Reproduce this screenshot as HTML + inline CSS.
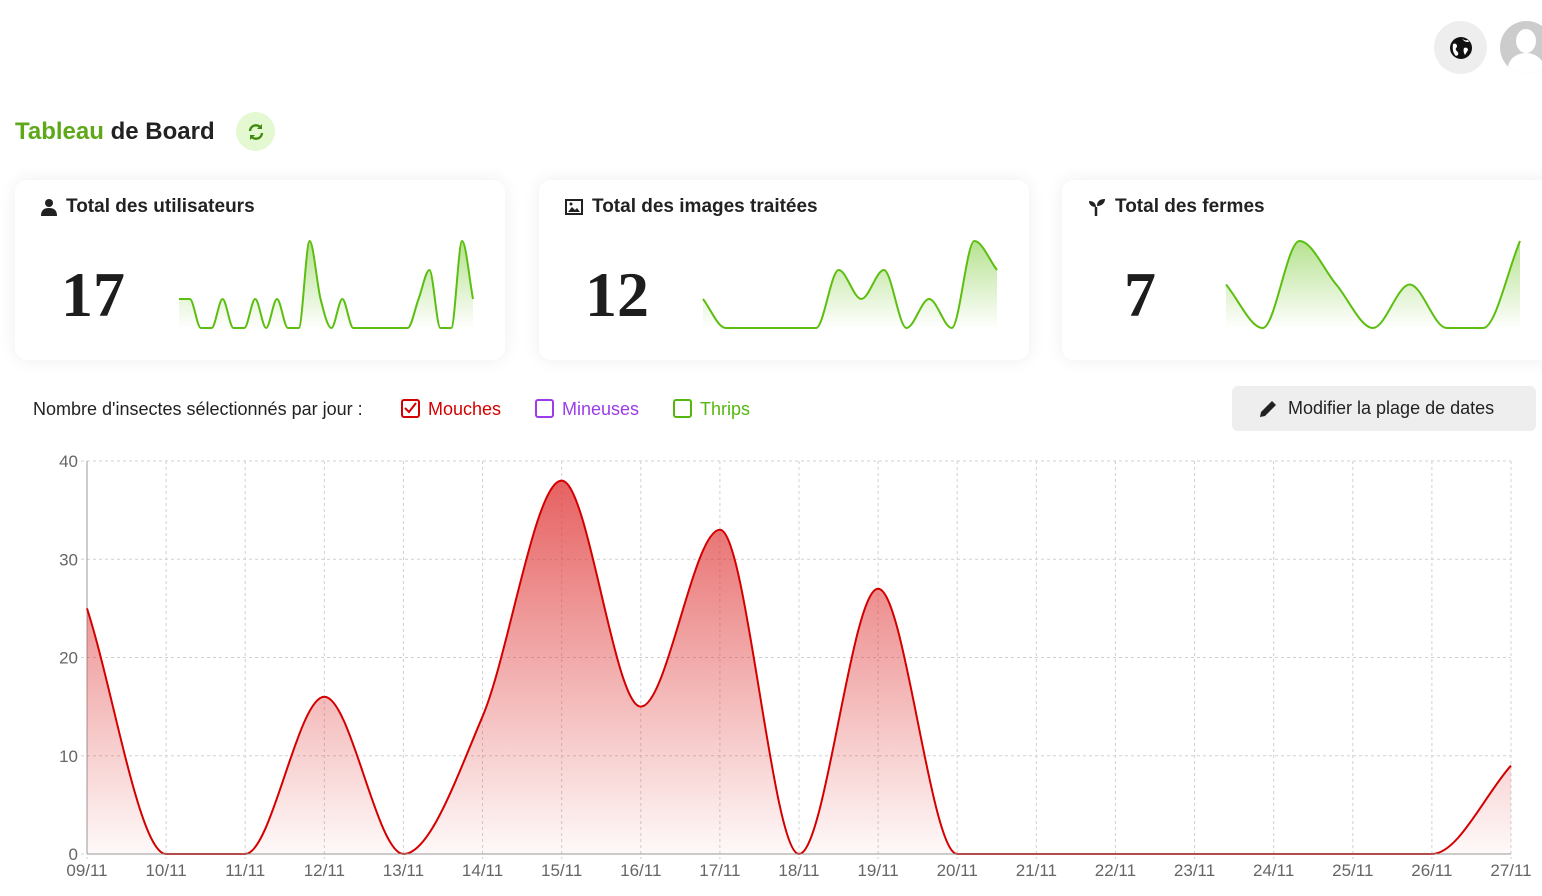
<!DOCTYPE html>
<html><head><meta charset="utf-8">
<style>
*{box-sizing:border-box;margin:0;padding:0}
body{width:1542px;height:896px;overflow:hidden;background:#fff;font-family:"Liberation Sans",sans-serif;color:#222;position:relative}
.abs{position:absolute}
.card{position:absolute;top:180px;width:490px;height:180px;background:#fff;border-radius:12px;box-shadow:0 0 18px rgba(0,0,0,0.07)}
.card .t{position:absolute;left:26px;top:16px;font-size:19px;font-weight:bold;color:#222;display:flex;align-items:center;gap:9px}
.card .n{position:absolute;top:78px;font-family:"Liberation Serif",serif;font-weight:bold;font-size:64px;color:#1d1d1d}
.cb{display:inline-block;width:19px;height:19px;border:2px solid;border-radius:3px;vertical-align:middle;margin-right:8px;position:relative;top:-2px}
</style></head><body>
<div class="abs" style="left:1434px;top:21px;width:53px;height:53px;border-radius:50%;background:#eee;display:flex;align-items:center;justify-content:center">
<svg width="24" height="24" viewBox="0 0 24 24"><circle cx="12" cy="12" r="11" fill="#111"/><path d="M4 8c2-1 4 0 4 2s-2 2-1 4 3 2 2 5l-2 1c-2-2-4-5-3-12z M13 2c1 2 4 3 6 2l1 2c-3 0-5 0-7-4z M15 12c2-1 4 0 4 2l-3 5c-1-2-2-4-1-7z" fill="#fff"/></svg></div>
<div class="abs" style="left:1500px;top:21px;width:53px;height:53px;border-radius:50%;background:#ccc;overflow:hidden">
<div style="position:absolute;left:16px;top:8px;width:20px;height:24px;border-radius:50%;background:#fff"></div>
<div style="position:absolute;left:8px;top:32px;width:36px;height:30px;border-radius:50%;background:#fff"></div></div>
<div class="abs" style="left:15px;top:118px;font-size:24px;font-weight:bold"><span style="color:#5ea81a">Tableau</span> de Board</div>
<div class="abs" style="left:236px;top:112px;width:39px;height:39px;border-radius:50%;background:#e4f9d2;display:flex;align-items:center;justify-content:center">
<svg width="18" height="18" viewBox="0 0 18 18"><path d="M3 8a6 6 0 0 1 11-3 M15 10a6 6 0 0 1-11 3" fill="none" stroke="#3e8a0c" stroke-width="2.4"/><path d="M15 1v5h-5z M3 17v-5h5z" fill="#3e8a0c"/></svg></div>

<div class="card" style="left:15px">
<div class="t"><svg width="16" height="18" viewBox="0 0 16 18"><circle cx="8" cy="5" r="4" fill="#222"/><path d="M0 18c0-6 3-8 8-8s8 2 8 8z" fill="#222"/></svg>Total des utilisateurs</div>
<div class="n" style="left:46px">17</div>
<svg class="abs" style="left:0;top:0" width="490" height="180" id="sp1"></svg>
</div>
<div class="card" style="left:539px">
<div class="t"><svg width="18" height="16" viewBox="0 0 18 16"><rect x="1" y="1" width="16" height="14" fill="none" stroke="#222" stroke-width="2"/><path d="M3 13l4-5 3 3 2-2 3 4z" fill="#222"/><circle cx="6" cy="5" r="1.5" fill="#222"/></svg>Total des images traitées</div>
<div class="n" style="left:46px">12</div>
<svg class="abs" style="left:0;top:0" width="490" height="180" id="sp2"></svg>
</div>
<div class="card" style="left:1062px">
<div class="t"><svg width="18" height="18" viewBox="0 0 18 18"><path d="M8 18V9" stroke="#222" stroke-width="2.5"/><path d="M8 9C3 9 1 6 1 3c4 0 7 2 7 6z M9 8c0-5 3-7 8-7 0 4-3 7-8 7z" fill="#222"/></svg>Total des fermes</div>
<div class="n" style="left:62px">7</div>
<svg class="abs" style="left:0;top:0" width="490" height="180" id="sp3"></svg>
</div>

<div class="abs" style="left:33px;top:399px;font-size:18px">Nombre d'insectes sélectionnés par jour :</div>
<div class="abs" style="left:401px;top:399px;font-size:18px;color:#d40000"><span class="cb" style="border-color:#d40000"><svg style="position:absolute;left:1px;top:1px" width="13" height="13" viewBox="0 0 13 13"><path d="M1 6l4 4 7-9" fill="none" stroke="#d40000" stroke-width="2"/></svg></span>Mouches</div>
<div class="abs" style="left:535px;top:399px;font-size:18px;color:#9a3de8"><span class="cb" style="border-color:#9a3de8"></span>Mineuses</div>
<div class="abs" style="left:673px;top:399px;font-size:18px;color:#55b70e"><span class="cb" style="border-color:#55b70e"></span>Thrips</div>
<div class="abs" style="left:1232px;top:386px;width:304px;height:45px;background:#eee;border-radius:6px;font-size:18px;line-height:45px;padding-left:56px">Modifier la plage de dates
<svg style="position:absolute;left:27px;top:13px" width="19" height="19" viewBox="0 0 19 19"><path d="M1 18l1-5L13 2l4 4L6 17z" fill="#222"/></svg></div>

<svg class="abs" style="left:0;top:0" width="1542" height="896" id="chart"></svg>

<script>
const dates=["09/11","10/11","11/11","12/11","13/11","14/11","15/11","16/11","17/11","18/11","19/11","20/11","21/11","22/11","23/11","24/11","25/11","26/11","27/11"];
const mouches=[25,0,0,16,0,14,38,15,33,0,27,0,0,0,0,0,0,0,9];
const yTicks=[0,10,20,30,40];
const users=[1,1,0,0,1,0,0,1,0,1,0,0,3,1,0,1,0,0,0,0,0,0,1,2,0,0,3,1];
const images=[1,0,0,0,0,0,2,1,2,0,1,0,3,2];
const farms=[1,0,2,1,0,1,0,0,2];
const NS="http://www.w3.org/2000/svg";
function mk(t,a){const e=document.createElementNS(NS,t);for(const k in a)e.setAttribute(k,a[k]);return e;}
function monoPath(px,py){
 const n=px.length,d=[],m=[];
 for(let i=0;i<n-1;i++)d.push((py[i+1]-py[i])/(px[i+1]-px[i]));
 for(let i=0;i<n;i++){
  if(i===0)m.push(d[0]);else if(i===n-1)m.push(d[n-2]);
  else m.push(d[i-1]*d[i]<=0?0:(d[i-1]+d[i])/2);
 }
 for(let i=0;i<n-1;i++){
  if(d[i]===0){m[i]=0;m[i+1]=0;continue;}
  const a=m[i]/d[i],b=m[i+1]/d[i],s=a*a+b*b;
  if(s>9){const t=3/Math.sqrt(s);m[i]=t*a*d[i];m[i+1]=t*b*d[i];}
 }
 let p="M"+px[0]+","+py[0];
 for(let i=0;i<n-1;i++){const h=(px[i+1]-px[i])/3;
  p+=" C"+(px[i]+h)+","+(py[i]+m[i]*h)+" "+(px[i+1]-h)+","+(py[i+1]-m[i+1]*h)+" "+px[i+1]+","+py[i+1];}
 return p;
}
const svg=document.getElementById('chart');
const X0=87,X1=1511,Y0=854,Y1=461;
const xS=i=>X0+i*(X1-X0)/(dates.length-1);
const yS=v=>Y0-v*(Y0-Y1)/40;
const defs=mk('defs',{});
defs.innerHTML='<linearGradient id="rg" x1="0" y1="0" x2="0" y2="1"><stop offset="0" stop-color="#e03a3a" stop-opacity="0.8"/><stop offset="1" stop-color="#e03a3a" stop-opacity="0.03"/></linearGradient><linearGradient id="gg" x1="0" y1="0" x2="0" y2="1"><stop offset="0" stop-color="#6cc520" stop-opacity="0.5"/><stop offset="1" stop-color="#6cc520" stop-opacity="0"/></linearGradient>';
svg.appendChild(defs);
yTicks.forEach(v=>{
 const l=mk('line',{x1:X0-6,x2:X1,y1:yS(v),y2:yS(v),stroke:'#d0d0d0','stroke-dasharray':'3,3'});
 
 
 svg.appendChild(l);
 const t=mk('text',{x:X0-9,y:yS(v)+6,'text-anchor':'end','font-size':'17',fill:'#666'});
 t.textContent=v;
 
 
 svg.appendChild(t);
});
dates.forEach((d,i)=>{
 const l=mk('line',{x1:xS(i),x2:xS(i),y1:Y1,y2:Y0+5,stroke:'#d0d0d0','stroke-dasharray':'3,3'});
 
 
 svg.appendChild(l);
 const t=mk('text',{x:xS(i),y:Y0+22,'text-anchor':'middle','font-size':'17',fill:'#666'});
 t.textContent=d;
 
 
 svg.appendChild(t);
});
const ax=mk('line',{x1:X0,x2:X0,y1:Y1,y2:Y0,stroke:'#999'});


svg.appendChild(ax);
const px=mouches.map((v,i)=>xS(i)),py=mouches.map(yS);
const lp=monoPath(px,py);
const area=mk('path',{d:lp+" L"+px[px.length-1]+","+Y0+" L"+px[0]+","+Y0+" Z",fill:'url(#rg)'});


svg.appendChild(area);
const line=mk('path',{d:lp,fill:'none',stroke:'#d40000','stroke-width':2});


svg.appendChild(line);
const bx=mk('line',{x1:X0,x2:X1,y1:Y0,y2:Y0,stroke:'#999'});


svg.appendChild(bx);
function spark(id,vals,max){
 const s=document.getElementById(id);
 const L=164,R=458,T=61,B=148;
 const xs=vals.map((v,i)=>L+i*(R-L)/(vals.length-1));
 const ys=vals.map(v=>B-v*(B-T)/max);
 const p=monoPath(xs,ys);
 const a=mk('path',{d:p+" L"+R+","+B+" L"+L+","+B+" Z",fill:'url(#gg)'});
 
 
 s.appendChild(a);
 const l=mk('path',{d:p,fill:'none',stroke:'#5cbf10','stroke-width':2});
 
 
 s.appendChild(l);
}
spark('sp1',users,3);spark('sp2',images,3);spark('sp3',farms,2);
</script>
</body></html>
